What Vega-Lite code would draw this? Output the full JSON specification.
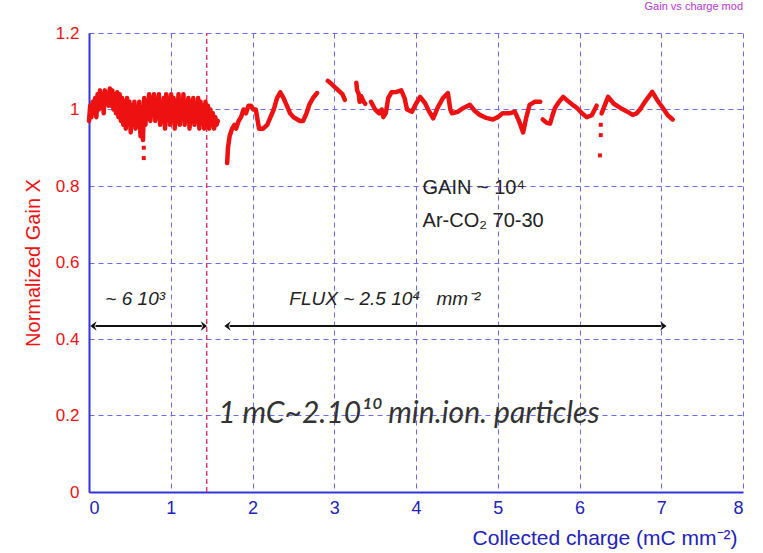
{
  "$schema": "https://vega.github.io/schema/vega-lite/v6.json",
  "autosize": {"type": "none"},
  "width": 654,
  "height": 459,
  "padding": {"left": 89, "top": 33, "right": 20, "bottom": 61},
  "background": "white",
  "title": {"text": "Gain vs charge mod", "anchor": "end", "color": "#b833d9", "fontSize": 11, "font": "Liberation Sans", "fontWeight": "normal", "offset": 12},
  "config": {
    "view": {"stroke": null},
    "font": "Liberation Sans"
  },
  "datasets": {
    "gain": [
      {"x":0.000,"y":0.97,"seg":"a"},{"x":0.015,"y":1.01,"seg":"a"},{"x":0.030,"y":0.98,"seg":"a"},{"x":0.045,"y":1.02,"seg":"a"},{"x":0.060,"y":0.99,"seg":"a"},{"x":0.075,"y":1.03,"seg":"a"},{"x":0.090,"y":0.98,"seg":"a"},{"x":0.105,"y":1.04,"seg":"a"},{"x":0.120,"y":1.00,"seg":"a"},{"x":0.135,"y":1.05,"seg":"a"},{"x":0.150,"y":1.02,"seg":"a"},{"x":0.165,"y":1.04,"seg":"a"},{"x":0.180,"y":0.99,"seg":"a"},{"x":0.195,"y":1.05,"seg":"a"},{"x":0.210,"y":1.02,"seg":"a"},{"x":0.225,"y":1.04,"seg":"a"},{"x":0.240,"y":1.01,"seg":"a"},{"x":0.255,"y":1.055,"seg":"a"},{"x":0.270,"y":1.01,"seg":"a"},{"x":0.285,"y":1.05,"seg":"a"},{"x":0.300,"y":1.00,"seg":"a"},{"x":0.315,"y":1.04,"seg":"a"},{"x":0.330,"y":0.99,"seg":"a"},{"x":0.345,"y":1.045,"seg":"a"},{"x":0.360,"y":0.98,"seg":"a"},{"x":0.375,"y":1.04,"seg":"a"},{"x":0.390,"y":0.97,"seg":"a"},{"x":0.405,"y":1.03,"seg":"a"},{"x":0.420,"y":0.96,"seg":"a"},{"x":0.435,"y":1.02,"seg":"a"},{"x":0.450,"y":0.95,"seg":"a"},{"x":0.465,"y":1.03,"seg":"a"},{"x":0.480,"y":0.97,"seg":"a"},{"x":0.495,"y":1.02,"seg":"a"},{"x":0.510,"y":0.94,"seg":"a"},{"x":0.525,"y":1.01,"seg":"a"},{"x":0.540,"y":0.96,"seg":"a"},{"x":0.555,"y":1.02,"seg":"a"},{"x":0.570,"y":0.95,"seg":"a"},{"x":0.585,"y":1.00,"seg":"a"},{"x":0.600,"y":0.97,"seg":"a"},{"x":0.615,"y":1.02,"seg":"a"},{"x":0.630,"y":0.93,"seg":"a"},{"x":0.645,"y":0.99,"seg":"a"},{"x":0.660,"y":0.92,"seg":"a"},{"x":0.675,"y":1.03,"seg":"a"},{"x":0.690,"y":0.96,"seg":"a"},{"x":0.705,"y":1.02,"seg":"a"},{"x":0.720,"y":0.98,"seg":"a"},{"x":0.735,"y":1.04,"seg":"a"},{"x":0.750,"y":0.97,"seg":"a"},{"x":0.765,"y":1.03,"seg":"a"},{"x":0.780,"y":0.99,"seg":"a"},{"x":0.795,"y":1.04,"seg":"a"},{"x":0.810,"y":0.97,"seg":"a"},{"x":0.825,"y":1.02,"seg":"a"},{"x":0.840,"y":0.99,"seg":"a"},{"x":0.855,"y":1.04,"seg":"a"},{"x":0.870,"y":0.96,"seg":"a"},{"x":0.885,"y":1.01,"seg":"a"},{"x":0.900,"y":0.97,"seg":"a"},{"x":0.915,"y":1.03,"seg":"a"},{"x":0.930,"y":0.95,"seg":"a"},{"x":0.945,"y":1.04,"seg":"a"},{"x":0.960,"y":0.99,"seg":"a"},{"x":0.975,"y":1.03,"seg":"a"},{"x":0.990,"y":0.96,"seg":"a"},{"x":1.005,"y":1.04,"seg":"a"},{"x":1.020,"y":0.98,"seg":"a"},{"x":1.035,"y":1.03,"seg":"a"},{"x":1.050,"y":0.95,"seg":"a"},{"x":1.065,"y":1.02,"seg":"a"},{"x":1.080,"y":0.97,"seg":"a"},{"x":1.095,"y":1.04,"seg":"a"},{"x":1.110,"y":0.96,"seg":"a"},{"x":1.125,"y":1.02,"seg":"a"},{"x":1.140,"y":0.98,"seg":"a"},{"x":1.155,"y":1.04,"seg":"a"},{"x":1.170,"y":0.96,"seg":"a"},{"x":1.185,"y":1.02,"seg":"a"},{"x":1.200,"y":0.98,"seg":"a"},{"x":1.215,"y":1.03,"seg":"a"},{"x":1.230,"y":0.95,"seg":"a"},{"x":1.245,"y":1.02,"seg":"a"},{"x":1.260,"y":0.97,"seg":"a"},{"x":1.275,"y":1.03,"seg":"a"},{"x":1.290,"y":0.96,"seg":"a"},{"x":1.305,"y":1.01,"seg":"a"},{"x":1.320,"y":0.98,"seg":"a"},{"x":1.335,"y":1.03,"seg":"a"},{"x":1.350,"y":0.95,"seg":"a"},{"x":1.365,"y":1.02,"seg":"a"},{"x":1.380,"y":0.97,"seg":"a"},{"x":1.395,"y":1.01,"seg":"a"},{"x":1.410,"y":0.95,"seg":"a"},{"x":1.425,"y":1.02,"seg":"a"},{"x":1.440,"y":0.96,"seg":"a"},{"x":1.455,"y":1.01,"seg":"a"},{"x":1.470,"y":0.95,"seg":"a"},{"x":1.485,"y":1.00,"seg":"a"},{"x":1.500,"y":0.96,"seg":"a"},{"x":1.515,"y":0.99,"seg":"a"},{"x":1.530,"y":0.95,"seg":"a"},{"x":1.545,"y":0.98,"seg":"a"},{"x":1.560,"y":0.96,"seg":"a"},{"x":1.575,"y":0.97,"seg":"a"},
      {"x":1.69,"y":0.86,"seg":"b"},{"x":1.70,"y":0.90,"seg":"b"},{"x":1.72,"y":0.93,"seg":"b"},{"x":1.75,"y":0.95,"seg":"b"},{"x":1.78,"y":0.96,"seg":"b"},{"x":1.80,"y":0.95,"seg":"b"},{"x":1.83,"y":0.97,"seg":"b"},{"x":1.86,"y":0.98,"seg":"b"},{"x":1.89,"y":1.00,"seg":"b"},{"x":1.92,"y":0.99,"seg":"b"},{"x":1.95,"y":1.01,"seg":"b"},{"x":1.98,"y":1.01,"seg":"b"},{"x":2.01,"y":1.00,"seg":"b"},{"x":2.04,"y":1.00,"seg":"b"},{"x":2.08,"y":0.95,"seg":"b"},{"x":2.13,"y":0.95,"seg":"b"},{"x":2.18,"y":0.96,"seg":"b"},{"x":2.22,"y":0.98,"seg":"b"},{"x":2.26,"y":1.00,"seg":"b"},{"x":2.30,"y":1.03,"seg":"b"},{"x":2.34,"y":1.045,"seg":"b"},{"x":2.38,"y":1.03,"seg":"b"},{"x":2.42,"y":1.01,"seg":"b"},{"x":2.46,"y":0.99,"seg":"b"},{"x":2.50,"y":0.98,"seg":"b"},{"x":2.54,"y":0.975,"seg":"b"},{"x":2.58,"y":0.97,"seg":"b"},{"x":2.62,"y":0.97,"seg":"b"},{"x":2.66,"y":0.99,"seg":"b"},{"x":2.70,"y":1.015,"seg":"b"},{"x":2.74,"y":1.03,"seg":"b"},{"x":2.79,"y":1.043,"seg":"b"},
      {"x":2.92,"y":1.075,"seg":"c"},{"x":2.95,"y":1.07,"seg":"c"},{"x":3.00,"y":1.06,"seg":"c"},{"x":3.05,"y":1.05,"seg":"c"},{"x":3.10,"y":1.04,"seg":"c"},{"x":3.13,"y":1.025,"seg":"c"},
      {"x":3.27,"y":1.07,"seg":"d"},{"x":3.28,"y":1.05,"seg":"d"},{"x":3.30,"y":1.04,"seg":"d"},{"x":3.31,"y":1.02,"seg":"d"},{"x":3.33,"y":1.035,"seg":"d"},{"x":3.36,"y":1.02,"seg":"d"},{"x":3.38,"y":1.015,"seg":"d"},
      {"x":3.45,"y":1.02,"seg":"e"},{"x":3.50,"y":1.00,"seg":"e"},{"x":3.55,"y":0.99,"seg":"e"},{"x":3.58,"y":1.00,"seg":"e"},{"x":3.60,"y":0.98,"seg":"e"},{"x":3.63,"y":0.99,"seg":"e"},{"x":3.66,"y":1.03,"seg":"e"},{"x":3.70,"y":1.045,"seg":"e"},{"x":3.76,"y":1.046,"seg":"e"},{"x":3.82,"y":1.05,"seg":"e"},{"x":3.86,"y":1.03,"seg":"e"},{"x":3.89,"y":1.00,"seg":"e"},{"x":3.95,"y":0.994,"seg":"e"},{"x":4.00,"y":1.015,"seg":"e"},{"x":4.05,"y":1.033,"seg":"e"},{"x":4.11,"y":1.017,"seg":"e"},{"x":4.16,"y":0.995,"seg":"e"},{"x":4.21,"y":0.977,"seg":"e"},{"x":4.27,"y":1.007,"seg":"e"},{"x":4.33,"y":1.03,"seg":"e"},{"x":4.39,"y":1.043,"seg":"e"},{"x":4.42,"y":1.00,"seg":"e"},{"x":4.44,"y":0.99,"seg":"e"},{"x":4.51,"y":0.994,"seg":"e"},{"x":4.58,"y":1.004,"seg":"e"},{"x":4.66,"y":1.012,"seg":"e"},{"x":4.72,"y":0.996,"seg":"e"},{"x":4.78,"y":0.986,"seg":"e"},{"x":4.86,"y":0.978,"seg":"e"},{"x":4.94,"y":0.974,"seg":"e"},{"x":5.00,"y":0.98,"seg":"e"},{"x":5.06,"y":0.99,"seg":"e"},{"x":5.14,"y":0.99,"seg":"e"},{"x":5.21,"y":0.994,"seg":"e"},{"x":5.26,"y":0.97,"seg":"e"},{"x":5.31,"y":0.94,"seg":"e"},{"x":5.35,"y":0.98,"seg":"e"},{"x":5.39,"y":1.012,"seg":"e"},{"x":5.45,"y":1.02,"seg":"e"},{"x":5.52,"y":1.02,"seg":"e"},
      {"x":5.55,"y":0.974,"seg":"f"},{"x":5.60,"y":0.965,"seg":"f"},{"x":5.64,"y":0.963,"seg":"f"},{"x":5.67,"y":0.985,"seg":"f"},{"x":5.70,"y":1.004,"seg":"f"},{"x":5.75,"y":1.02,"seg":"f"},{"x":5.80,"y":1.033,"seg":"f"},{"x":5.87,"y":1.02,"seg":"f"},{"x":5.93,"y":1.01,"seg":"f"},{"x":5.97,"y":1.004,"seg":"f"},{"x":6.03,"y":0.99,"seg":"f"},{"x":6.09,"y":0.98,"seg":"f"},{"x":6.15,"y":0.985,"seg":"f"},{"x":6.21,"y":1.01,"seg":"f"},
      {"x":6.27,"y":0.99,"seg":"g"},{"x":6.35,"y":1.033,"seg":"g"},{"x":6.42,"y":1.015,"seg":"g"},{"x":6.50,"y":1.004,"seg":"g"},{"x":6.58,"y":0.995,"seg":"g"},{"x":6.65,"y":0.986,"seg":"g"},{"x":6.70,"y":0.99,"seg":"g"},{"x":6.74,"y":1.00,"seg":"g"},{"x":6.80,"y":1.02,"seg":"g"},{"x":6.89,"y":1.046,"seg":"g"},{"x":6.95,"y":1.025,"seg":"g"},{"x":7.02,"y":1.004,"seg":"g"},{"x":7.08,"y":0.985,"seg":"g"},{"x":7.14,"y":0.974,"seg":"g"}
    ],
    "dots": [
      {"x":0.67,"y":0.90},{"x":0.67,"y":0.873},{"x":6.26,"y":0.96},{"x":6.26,"y":0.933},{"x":6.25,"y":0.88}
    ],
    "arrows": [
      {"x1":0.08,"x2":1.38,"y":0.434},
      {"x1":1.72,"x2":7.0,"y":0.434}
    ],
    "plain": [
      {"x":4.08,"y":0.795,"t":"GAIN ~ 10⁴"},
      {"x":4.08,"y":0.708,"t":"Ar-CO₂ 70-30"}
    ],
    "ital": [
      {"x":0.2,"y":0.505,"t":"~ 6 10³"},
      {"x":2.45,"y":0.505,"t":"FLUX ~ 2.5 10⁴\u00a0\u00a0\u00a0mm⁻²"}
    ],
    "big": [
      {"x":1.58,"y":0.204,"t":"1 mC~2.10¹⁰ min.ion. particles"}
    ]
  },
  "layer": [
    {
      "data": {"values": [{"x": 1.44}]},
      "mark": {"type": "rule", "color": "#ee2255", "strokeDash": [5, 3], "strokeWidth": 1.3},
      "encoding": {
        "x": {
          "field": "x", "type": "quantitative",
          "scale": {"domain": [0, 8], "nice": false},
          "axis": {
            "values": [0,1,2,3,4,5,6,7,8],
            "format": "d",
            "title": "Collected charge (mC mm⁻²)",
            "titleAnchor": "end",
            "titleColor": "#2222bb",
            "titleFont": "Liberation Sans",
            "titleFontSize": 21,
            "titleFontWeight": "normal",
            "titlePadding": 10,
            "titleX": 648,
            "labelColor": "#2222bb",
            "labelFont": "Liberation Sans",
            "labelFontSize": 18,
            "labelPadding": 7,
            "ticks": false,
            "domainColor": "#3333dd",
            "domainWidth": 2,
            "grid": true,
            "gridColor": "#6a6af0",
            "gridDash": [5, 4],
            "gridWidth": 1
          }
        },
        "y": {
          "datum": 0, "type": "quantitative",
          "scale": {"domain": [0, 1.2], "nice": false},
          "axis": {
            "values": [0,0.2,0.4,0.6,0.8,1,1.2],
            "format": "~g",
            "title": "Normalized Gain X",
            "titleColor": "#ee1111",
            "titleFont": "Liberation Sans",
            "titleFontSize": 20,
            "titleFontWeight": "normal",
            "titlePadding": 12,
            "labelColor": "#ee1111",
            "labelFont": "Liberation Sans",
            "labelFontSize": 17,
            "labelPadding": 10,
            "ticks": false,
            "domainColor": "#3333dd",
            "domainWidth": 2,
            "grid": true,
            "gridColor": "#6a6af0",
            "gridDash": [5, 4],
            "gridWidth": 1
          }
        },
        "y2": {"datum": 1.2}
      }
    },
    {
      "data": {"name": "gain"},
      "mark": {"type": "line", "color": "#ee1111", "strokeWidth": 4.5, "strokeCap": "round", "strokeJoin": "round"},
      "encoding": {
        "x": {"field": "x", "type": "quantitative"},
        "y": {"field": "y", "type": "quantitative"},
        "detail": {"field": "seg"}
      }
    },
    {
      "data": {"name": "dots"},
      "mark": {"type": "square", "color": "#ee1111", "size": 16, "opacity": 1},
      "encoding": {
        "x": {"field": "x", "type": "quantitative"},
        "y": {"field": "y", "type": "quantitative"}
      }
    },
    {
      "data": {"name": "arrows"},
      "mark": {"type": "rule", "color": "#111111", "strokeWidth": 2},
      "encoding": {
        "x": {"field": "x1", "type": "quantitative"},
        "x2": {"field": "x2"},
        "y": {"field": "y", "type": "quantitative"}
      }
    },
    {
      "data": {"name": "arrows"},
      "mark": {"type": "point", "shape": "M0.2,-0.9L-1,0L0.2,0.9L-0.2,0Z", "filled": true, "color": "#111111", "size": 110, "opacity": 1},
      "encoding": {
        "x": {"field": "x1", "type": "quantitative"},
        "y": {"field": "y", "type": "quantitative"}
      }
    },
    {
      "data": {"name": "arrows"},
      "mark": {"type": "point", "shape": "M-0.2,-0.9L1,0L-0.2,0.9L0.2,0Z", "filled": true, "color": "#111111", "size": 110, "opacity": 1},
      "encoding": {
        "x": {"field": "x2", "type": "quantitative"},
        "y": {"field": "y", "type": "quantitative"}
      }
    },
    {
      "data": {"name": "plain"},
      "mark": {"type": "text", "align": "left", "baseline": "middle", "font": "Liberation Sans", "fontSize": 20, "color": "#222222"},
      "encoding": {
        "x": {"field": "x", "type": "quantitative"},
        "y": {"field": "y", "type": "quantitative"},
        "text": {"field": "t"}
      }
    },
    {
      "data": {"name": "ital"},
      "mark": {"type": "text", "align": "left", "baseline": "middle", "font": "Liberation Sans", "fontStyle": "italic", "fontSize": 19, "color": "#222222"},
      "encoding": {
        "x": {"field": "x", "type": "quantitative"},
        "y": {"field": "y", "type": "quantitative"},
        "text": {"field": "t"}
      }
    },
    {
      "data": {"name": "big"},
      "mark": {"type": "text", "align": "left", "baseline": "middle", "font": "Lato", "fontStyle": "italic", "fontSize": 30, "color": "#333333"},
      "encoding": {
        "x": {"field": "x", "type": "quantitative"},
        "y": {"field": "y", "type": "quantitative"},
        "text": {"field": "t"}
      }
    }
  ]
}
